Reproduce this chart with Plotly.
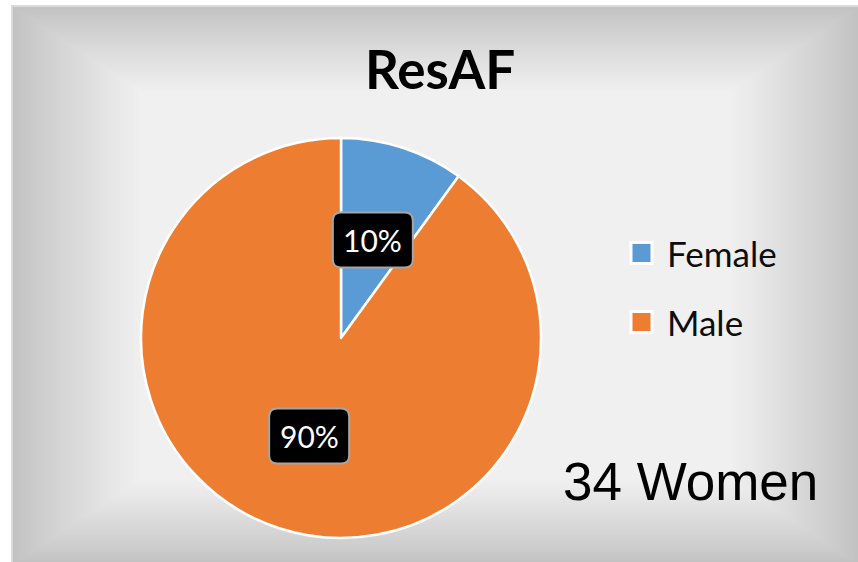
import math
import plotly.graph_objects as go

# ---- data ----
categories = ["Female", "Male"]
values = [10, 90]
colors = ["#5B9BD5", "#ED7D31"]
title_text = "ResAF"
note_text = "34 Women"

W, H = 858, 562

def px(x, y):
    return x / W, 1 - y / H

# pie geometry (pixels)
CX, CY, R = 341, 338, 200

fig = go.Figure()
fig.add_trace(go.Pie(
    labels=categories, values=values, sort=False, direction="clockwise", rotation=0,
    marker=dict(colors=colors, line=dict(color="white", width=2.5)),
    textinfo="none", hoverinfo="label+percent", showlegend=False,
    domain=dict(x=[(CX - R) / W, (CX + R) / W], y=[1 - (CY + R) / H, 1 - (CY - R) / H]),
))

shapes = []
# ---- gradient background panel (rectangular gradient) ----
PX0, PY0, PX1, PY1 = 11, 5, 858, 562
hw, hh = (PX1 - PX0) / 2, (PY1 - PY0) / 2
shapes.append(dict(type="rect", xref="paper", yref="paper",
                   x0=px(PX0, 0)[0], x1=px(PX1, 0)[0], y0=px(0, PY1)[1], y1=px(0, PY0)[1],
                   fillcolor="#dadada", line=dict(width=0), layer="below"))
N = 45
FMAX = 0.30
c0, c1 = 0xC2, 0xF0
for i in range(N + 1):
    f = FMAX * i / N
    t = i / N
    c = int(round(c0 + (c1 - c0) * (t ** 0.9)))
    col = f"rgb({c},{c},{c})"
    x0p = PX0 + 2 + f * hw
    x1p = PX1 - f * hw
    y0p = PY0 + 2 + f * hh
    y1p = PY1 + 2 - f * hh
    shapes.append(dict(type="rect", xref="paper", yref="paper",
                       x0=px(x0p, 0)[0], x1=px(x1p, 0)[0], y0=px(0, y1p)[1], y1=px(0, y0p)[1],
                       fillcolor=col, line=dict(width=0), layer="below"))

annotations = []
# ---- data labels in rounded black boxes ----
total = sum(values)
cum = 0
BW, BH, BR = 80, 55, 8
for v in values:
    mid = (cum + v / 2) / total * 360
    cum += v
    rr = 0.515 * R
    lx = CX + rr * math.sin(math.radians(mid))
    ly = CY - rr * math.cos(math.radians(mid))
    x0, x1 = lx - BW / 2, lx + BW / 2
    y0, y1 = ly - BH / 2, ly + BH / 2
    def P(x, y):
        a, b = px(x, y)
        return f"{a:.5f},{b:.5f}"
    path = (f"M {P(x0 + BR, y0)} L {P(x1 - BR, y0)} Q {P(x1, y0)} {P(x1, y0 + BR)} "
            f"L {P(x1, y1 - BR)} Q {P(x1, y1)} {P(x1 - BR, y1)} "
            f"L {P(x0 + BR, y1)} Q {P(x0, y1)} {P(x0, y1 - BR)} "
            f"L {P(x0, y0 + BR)} Q {P(x0, y0)} {P(x0 + BR, y0)} Z")
    shapes.append(dict(type="path", xref="paper", yref="paper", path=path,
                       fillcolor="black", line=dict(color="#A6A6A6", width=2), layer="above"))
    ax, ay = px(lx, ly)
    annotations.append(dict(x=ax, y=ay, xref="paper", yref="paper", text=f"{v / total * 100:.0f}%",
                            showarrow=False, xanchor="center", yanchor="middle",
                            font=dict(family="Lato", size=30, color="white")))

# ---- custom legend ----
LX, LY0, LDY, LS = 641.5, 253, 69, 21
for i, (cat, col) in enumerate(zip(categories, colors)):
    yc = LY0 + i * LDY
    a0, b0 = px(LX - LS / 2, yc + LS / 2)
    a1, b1 = px(LX + LS / 2, yc - LS / 2)
    shapes.append(dict(type="rect", xref="paper", yref="paper", x0=a0, x1=a1, y0=b0, y1=b1,
                       fillcolor=col, line=dict(color="white", width=3), layer="above"))
    tx, ty = px(665, yc)
    annotations.append(dict(x=tx, y=ty, xref="paper", yref="paper", text=cat, showarrow=False,
                            xanchor="left", yanchor="middle",
                            font=dict(family="Lato", size=35, color="#0D0D0D")))

# ---- note ----
nx, ny = px(690, 481)
annotations.append(dict(x=nx, y=ny, xref="paper", yref="paper", text=note_text, showarrow=False,
                        xanchor="center", yanchor="middle",
                        font=dict(family="Liberation Sans, Arial", size=53, color="black")))

# ---- title ----
tx, ty = px(440, 68)
annotations.append(dict(x=tx, y=ty, xref="paper", yref="paper", text=f"<b>{title_text}</b>",
                        showarrow=False, xanchor="center", yanchor="middle",
                        font=dict(family="Lato", size=53, color="black")))

fig.update_layout(
    width=W, height=H, margin=dict(l=0, r=0, t=0, b=0),
    paper_bgcolor="white", plot_bgcolor="white",
    shapes=shapes, annotations=annotations, showlegend=False,
)
fig.write_html("out.html", config={"displayModeBar": False},
               post_script="document.body.style.margin='0px';")
